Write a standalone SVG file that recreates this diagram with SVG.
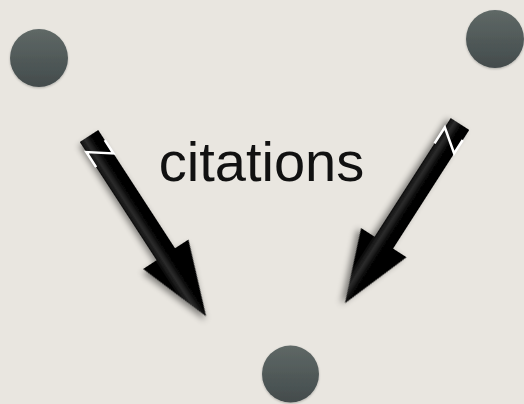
<svg xmlns="http://www.w3.org/2000/svg" width="524" height="404" viewBox="0 0 524 404">
  <defs>
    <linearGradient id="node-grad" x1="0" y1="0" x2="0" y2="1">
      <stop offset="0" stop-color="#5f6866"/>
      <stop offset="1" stop-color="#434b4c"/>
    </linearGradient>
    <linearGradient id="arrow-grad" x1="0" y1="-27" x2="0" y2="27" gradientUnits="userSpaceOnUse">
      <stop offset="0" stop-color="#000"/>
      <stop offset="0.45" stop-color="#000"/>
      <stop offset="0.6" stop-color="#2a2a2a"/>
      <stop offset="0.75" stop-color="#000"/>
      <stop offset="1" stop-color="#000"/>
    </linearGradient>
    <filter id="shadow" x="-30%" y="-30%" width="160%" height="160%">
      <feDropShadow dx="3" dy="3" stdDeviation="3" flood-color="#000" flood-opacity="0.45"/>
    </filter>
    <filter id="nshadow" x="-30%" y="-30%" width="160%" height="160%">
      <feDropShadow dx="0" dy="1" stdDeviation="1" flood-color="#000" flood-opacity="0.25"/>
    </filter>
  </defs>
  <style>
    .node { fill: url(#node-grad); filter: url(#nshadow); }
    .arrow { fill: url(#arrow-grad); filter: url(#shadow); }
    .zig { fill: none; stroke: #fff; stroke-width: 2.5; stroke-linejoin: miter; }
    .label { font-family: "Liberation Sans", Arial, sans-serif; font-size: 56px; fill: #111; }
  </style>
  <rect width="524" height="404" fill="#e9e6e0"/>

  <g id="node-topleft"><circle class="node" cx="39" cy="58" r="29"/></g>
  <g id="node-topright"><circle class="node" cx="495" cy="39" r="29"/></g>
  <g id="node-bottom"><circle class="node" cx="290.5" cy="374" r="28.5"/></g>

  <g id="label"><text class="label" x="261.5" y="181" text-anchor="middle">citations</text></g>

  <g id="connectors">
    <g transform="translate(89,136) rotate(57)">
      <polygon class="arrow" points="0,-11 141,-11 141,-27 215,0 141,27 141,11 0,11"/>
      <polyline class="zig" points="12,-11 28,-11 12,11 30,11"/>
    </g>
    <g transform="translate(460,124) rotate(122.7)">
      <polygon class="arrow" points="0,-11 141,-11 141,-27 213,0 141,27 141,11 0,11"/>
      <polyline class="zig" points="30,11 11,11 28,-11 12,-11"/>
    </g>
  </g>
</svg>
